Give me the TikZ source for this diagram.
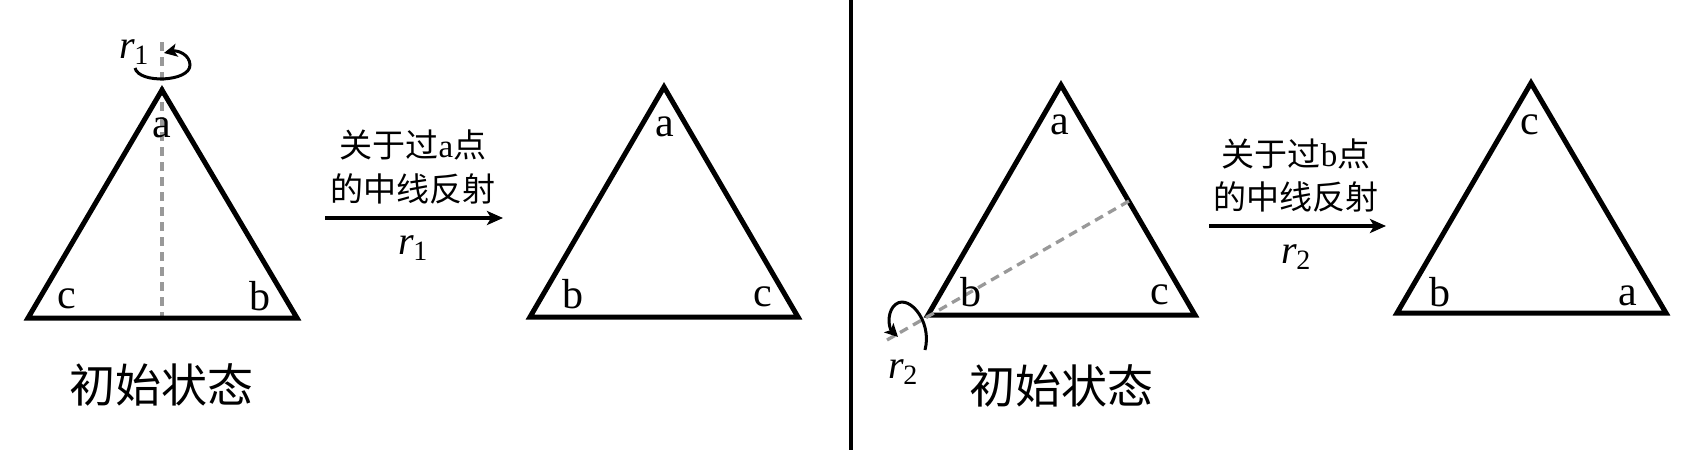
\documentclass[tikz,border=0pt]{standalone}
\usepackage{fontspec}
\setmainfont{Liberation Serif}
\newfontfamily\cjk{Noto Sans CJK SC}
\usetikzlibrary{arrows.meta}
\newcommand{\rsub}[1]{{\itshape r}\kern-1pt\raisebox{-0.16em}{\fontsize{28}{28}\selectfont #1}}
\begin{document}
\begin{tikzpicture}[x=1pt,y=-1pt,
  tri/.style={line width=5pt,line join=miter},
  lbl/.style={font=\fontsize{42}{42}\selectfont,inner sep=0pt},
  rlbl/.style={font=\fontsize{40}{40}\selectfont,inner sep=0pt},
  captxt/.style={font=\cjk\fontsize{46}{46}\selectfont,inner sep=0pt},
  desc/.style={font=\fontsize{33}{33}\selectfont,inner sep=0pt},
  axis/.style={draw=gray!80,line width=3.3pt,dash pattern=on 9pt off 6pt},
  mapar/.style={line width=4pt,-{Stealth[length=16pt,width=14pt,inset=4pt]}},
  rot/.style={line width=3pt,-{Stealth[length=13pt,width=13pt,inset=3pt]}}]
\useasboundingbox (0,0) rectangle (1701,450);
% separator
\coordinate (s1) at (851,0);
\coordinate (s2) at (851,450);
\draw[line width=4pt] (s1) -- (s2);

% ---- triangle 1
\coordinate (A1) at (162,90);
\coordinate (C1) at (28,318);
\coordinate (B1) at (297,318);
\coordinate (ax1t) at (162,42);
\coordinate (ax1b) at (162,320);
\draw[axis] (ax1t) -- (ax1b);
\draw[tri] (A1) -- (B1) -- (C1) -- cycle;
\node[lbl] (la1) at (162,128) {a};
\node[lbl] (lc1) at (67,299) {c};
\node[lbl] (lb1) at (260,296) {b};
\coordinate (r1s) at (135,68);
\coordinate (r1e) at (164,53);
\draw[rot] (r1s) .. controls (139,84) and (190,82) .. (190,65) .. controls (190,55) and (178,50) .. (r1e);
\node[rlbl] (r1lab) at (134,52) {\rsub{1}};
\node[captxt] (cap1) at (161,385) {初始状态};

% ---- arrow 1
\coordinate (m1s) at (325,218);
\coordinate (m1e) at (503,218);
\draw[mapar] (m1s) -- (m1e);
\node[desc] (d1a) at (413,145) {{\cjk 关于过}a{\cjk 点}};
\node[desc] (d1b) at (413,189) {\cjk 的中线反射};
\node[rlbl] (m1r) at (413,248) {\rsub{1}};

% ---- triangle 2
\coordinate (A2) at (664,87);
\coordinate (B2) at (530,317);
\coordinate (C2) at (798,317);
\draw[tri] (A2) -- (C2) -- (B2) -- cycle;
\node[lbl] (la2) at (665,127) {a};
\node[lbl] (lb2) at (573,294) {b};
\node[lbl] (lc2) at (763,297) {c};

% ---- triangle 3
\coordinate (A3) at (1061,85);
\coordinate (B3) at (928,315);
\coordinate (C3) at (1195,315);
\coordinate (ax3s) at (887,340);
\coordinate (ax3e) at (1129,201);
\draw[tri] (A3) -- (C3) -- (B3) -- cycle;
\draw[axis] (ax3s) -- (ax3e);
\node[lbl] (la3) at (1060,125) {a};
\node[lbl] (lb3) at (971,292) {b};
\node[lbl] (lc3) at (1160,295) {c};
\coordinate (r2s) at (925,350);
\coordinate (r2e) at (898,337);
\draw[rot] (r2s) .. controls (933,320) and (906,290) .. (893,307) .. controls (887,315) and (889,328) .. (r2e);
\node[rlbl] (r2lab) at (903,372) {\rsub{2}};
\node[captxt] (cap3) at (1061,386) {初始状态};

% ---- arrow 2
\coordinate (m2s) at (1209,226);
\coordinate (m2e) at (1386,226);
\draw[mapar] (m2s) -- (m2e);
\node[desc] (d2a) at (1296,154) {{\cjk 关于过}b{\cjk 点}};
\node[desc] (d2b) at (1296,197) {\cjk 的中线反射};
\node[rlbl] (m2r) at (1296,257) {\rsub{2}};

% ---- triangle 4
\coordinate (A4) at (1531,83);
\coordinate (B4) at (1397,313);
\coordinate (C4) at (1666,313);
\draw[tri] (A4) -- (C4) -- (B4) -- cycle;
\node[lbl] (lc4) at (1530,125) {c};
\node[lbl] (lb4) at (1440,292) {b};
\node[lbl] (la4) at (1628,296) {a};
\end{tikzpicture}
\end{document}
